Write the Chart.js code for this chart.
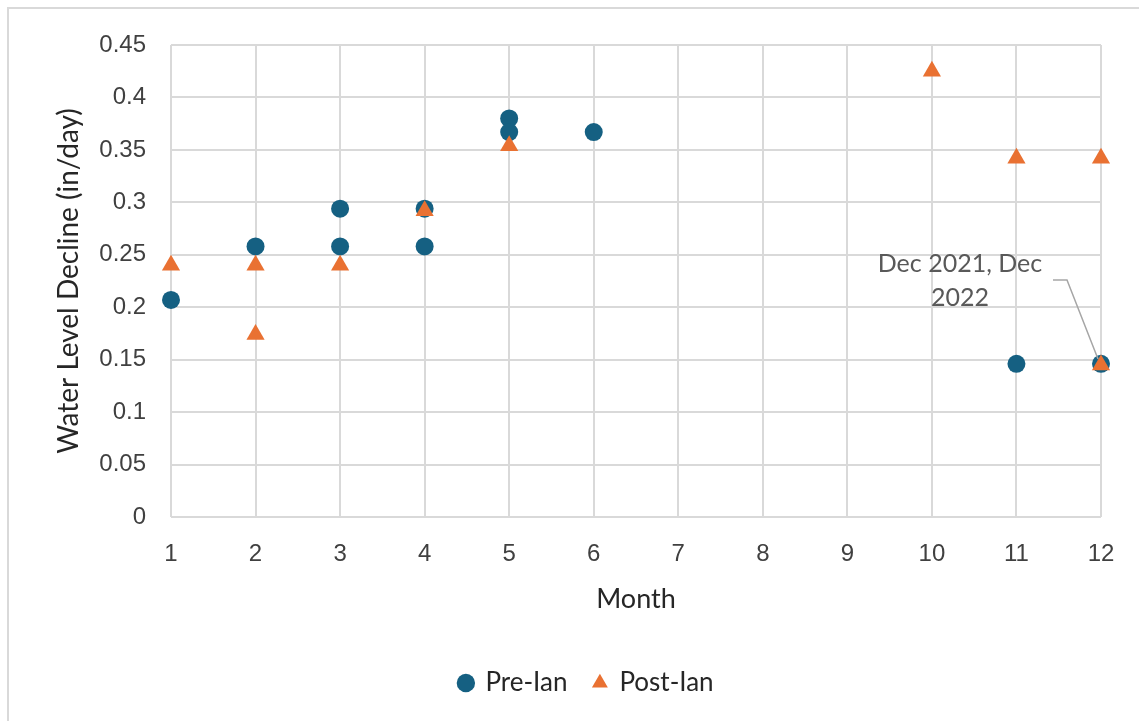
<!DOCTYPE html>
<html>
<head>
<meta charset="utf-8">
<script src="https://cdn.jsdelivr.net/npm/chart.js"></script>
<style>
  html, body { margin: 0; padding: 0; background: #ffffff; }
  #wrap { width: 1139px; height: 721px; position: relative; }
</style>
</head>
<body>
<div id="wrap"><canvas id="scatter-chart"></canvas></div>
<script>
// values
const preMonths  = [1, 2, 3, 3, 4, 4, 5, 5, 6, 11, 12];
const preValues  = [0.207, 0.258, 0.294, 0.258, 0.294, 0.258, 0.38, 0.367, 0.367, 0.146, 0.146];
const postMonths = [1, 2, 2, 3, 4, 5, 10, 11, 12, 12];
const postValues = [0.24, 0.24, 0.174, 0.24, 0.292, 0.354, 0.425, 0.342, 0.342, 0.145];
const seriesNames = ['Pre-Ian', 'Post-Ian'];
const noteLines = ['Dec 2021, Dec', '2022'];
const notePoint = { x: 12, y: 0.145 };

const toXY = (xs, ys) => xs.map((x, i) => ({ x: x, y: ys[i] }));

const gridColor = '#d9d9d9';
const textColor = '#404040';

// light frame around the whole chart
const framePlugin = {
    id: 'frame',
    beforeDraw(chart) {
        const ctx = chart.ctx;
        ctx.save();
        ctx.strokeStyle = '#d9d9d9';
        ctx.lineWidth = 2;
        ctx.strokeRect(8, 8, chart.width + 20, chart.height + 20);
        ctx.restore();
    }
};

// legend sits a bit right of the canvas centre in the original
const legendShift = {
    id: 'legendShift',
    afterLayout(chart) {
        chart.legend.left += 36;
        chart.legend.right += 36;
    }
};

// data label with leader line for the December point
const notePlugin = {
    id: 'note',
    afterDatasetsDraw(chart) {
        const ctx = chart.ctx;
        const px = chart.scales.x.getPixelForValue(notePoint.x);
        const py = chart.scales.y.getPixelForValue(notePoint.y);
        ctx.save();
        ctx.strokeStyle = '#a6a6a6';
        ctx.lineWidth = 1.5;
        ctx.beginPath();
        ctx.moveTo(px - 3, py - 6);
        ctx.lineTo(px - 34, py - 85);
        ctx.lineTo(px - 48, py - 85);
        ctx.stroke();
        ctx.fillStyle = '#595959';
        ctx.font = '25px Lato';
        ctx.textAlign = 'center';
        ctx.textBaseline = 'middle';
        ctx.fillText(noteLines[0], px - 141, py - 101);
        ctx.fillText(noteLines[1], px - 141, py - 67);
        ctx.restore();
    }
};

const ctx = document.getElementById('scatter-chart').getContext('2d');
new Chart(ctx, {
    type: 'scatter',
    data: {
        datasets: [{
            label: seriesNames[0],
            data: toXY(preMonths, preValues),
            pointStyle: 'circle',
            pointRadius: 9,
            pointHoverRadius: 9,
            backgroundColor: '#156082',
            borderColor: '#156082',
            borderWidth: 0,
            clip: false,
            order: 1
        }, {
            label: seriesNames[1],
            data: toXY(postMonths, postValues),
            pointStyle: 'triangle',
            pointRadius: 10.5,
            pointHoverRadius: 10.5,
            backgroundColor: '#e97132',
            borderColor: '#e97132',
            borderWidth: 0,
            clip: false,
            order: 0
        }]
    },
    options: {
        responsive: true,
        maintainAspectRatio: false,
        animation: false,
        layout: { padding: { left: 0, right: 38, top: 45, bottom: 15 } },
        scales: {
            x: {
                type: 'linear',
                min: 1,
                max: 12,
                afterFit: (scale) => { scale.height = 127; },
                border: { display: false },
                grid: { color: gridColor, lineWidth: 2, drawTicks: false },
                ticks: {
                    stepSize: 1,
                    padding: 23,
                    color: textColor,
                    font: { family: 'Liberation Sans', size: 24 }
                },
                title: {
                    display: true,
                    text: 'Month',
                    color: '#262626',
                    font: { family: 'Lato', size: 27 },
                    padding: { top: 0, bottom: 29 }
                }
            },
            y: {
                min: 0,
                max: 0.45,
                afterFit: (scale) => { scale.width = 171; },
                border: { display: false },
                grid: { color: gridColor, lineWidth: 2, drawTicks: false },
                ticks: {
                    stepSize: 0.05,
                    padding: 25,
                    color: textColor,
                    font: { family: 'Liberation Sans', size: 24 },
                    callback: (v) => String(Number(v.toFixed(2)))
                },
                title: {
                    display: true,
                    text: 'Water Level Decline (in/day)',
                    color: '#262626',
                    font: { family: 'Lato', size: 28 },
                    padding: { top: 52, bottom: 0 }
                }
            }
        },
        plugins: {
            legend: {
                position: 'bottom',
                reverse: true,
                labels: {
                    usePointStyle: true,
                    boxWidth: 13,
                    boxHeight: 13,
                    padding: 26,
                    color: '#262626',
                    font: { family: 'Lato', size: 26 }
                }
            },
            tooltip: { enabled: false }
        }
    },
    plugins: [framePlugin, legendShift, notePlugin]
});
</script>
</body>
</html>
